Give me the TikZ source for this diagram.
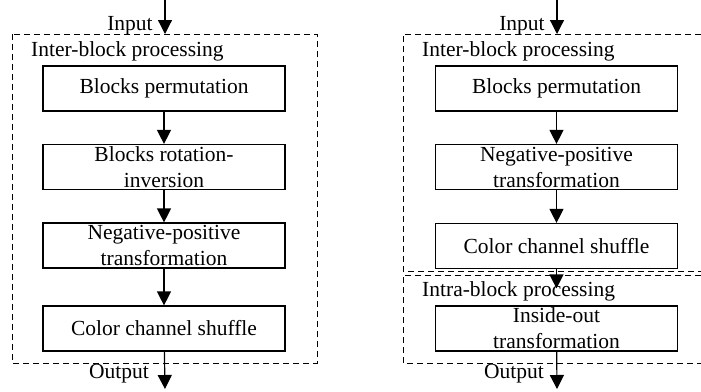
\documentclass[tikz,border=0pt]{standalone}
\usepackage{fontspec}
\setmainfont{Liberation Serif}
\usetikzlibrary{arrows.meta}
\begin{document}
\begin{tikzpicture}[x=1pt,y=-1pt,
  box/.style={draw, line width=1.2pt, minimum width=242pt, minimum height=45pt,
    inner sep=0pt, align=center, font=\fontsize{21.5}{26}\selectfont},
  lbl/.style={inner sep=0pt, font=\fontsize{21.5}{26}\selectfont},
  arr/.style={line width=1.2pt, -{Triangle[width=14pt,length=14pt]}},
  grp/.style={line width=1pt, dash pattern=on 6pt off 4pt}]
\useasboundingbox (0,0) rectangle (701,391);
% left chain
\draw[grp] (12,34) rectangle (317,363);
\node[lbl, anchor=west] (lg) at (31,51.5) {Inter-block processing};
\node[box] (l1) at (164,88.5) {Blocks permutation};
\node[box] (l2) at (164,167) {Blocks rotation-\\inversion};
\node[box] (l3) at (164,245.5) {Negative-positive\\transformation};
\node[box] (l4) at (164,328.5) {Color channel shuffle};
\node[lbl] (lin) at (130,25.5) {Input};
\node[lbl] (lout) at (119,374) {Output};
\coordinate (lt) at (165,0);
\coordinate (lh) at (165,34);
\coordinate (lb) at (165,389);
\draw[arr] (lt) -- (lh);
\draw[arr] (l1) -- (l2);
\draw[arr] (l2) -- (l3);
\draw[arr] (l3) -- (l4);
\draw[arr] (l4) -- (lb);
% right chain
\draw[grp] (701,34) -- (403,34) -- (403,271) -- (701,271);
\draw[grp] (701,275) -- (403,275) -- (403,363) -- (701,363);
\node[lbl, anchor=west] (rg) at (422,51.5) {Inter-block processing};
\node[lbl, anchor=west] (rg2) at (422,291) {Intra-block processing};
\node[box] (r1) at (556.5,88.5) {Blocks permutation};
\node[box] (r2) at (556.5,167) {Negative-positive\\transformation};
\node[box] (r3) at (556.5,246) {Color channel shuffle};
\node[box] (r4) at (556.5,328.5) {Inside-out\\transformation};
\node[lbl] (rin) at (522,25.5) {Input};
\node[lbl] (rout) at (514,374) {Output};
\coordinate (rt) at (557,0);
\coordinate (rh) at (557,34);
\coordinate (rb) at (557,389);
\draw[arr] (rt) -- (rh);
\draw[arr] (r1) -- (r2);
\draw[arr] (r2) -- (r3);
\draw[arr, shorten >=17pt] (r3) -- (r4);
\draw[arr] (r4) -- (rb);
\end{tikzpicture}
\end{document}
